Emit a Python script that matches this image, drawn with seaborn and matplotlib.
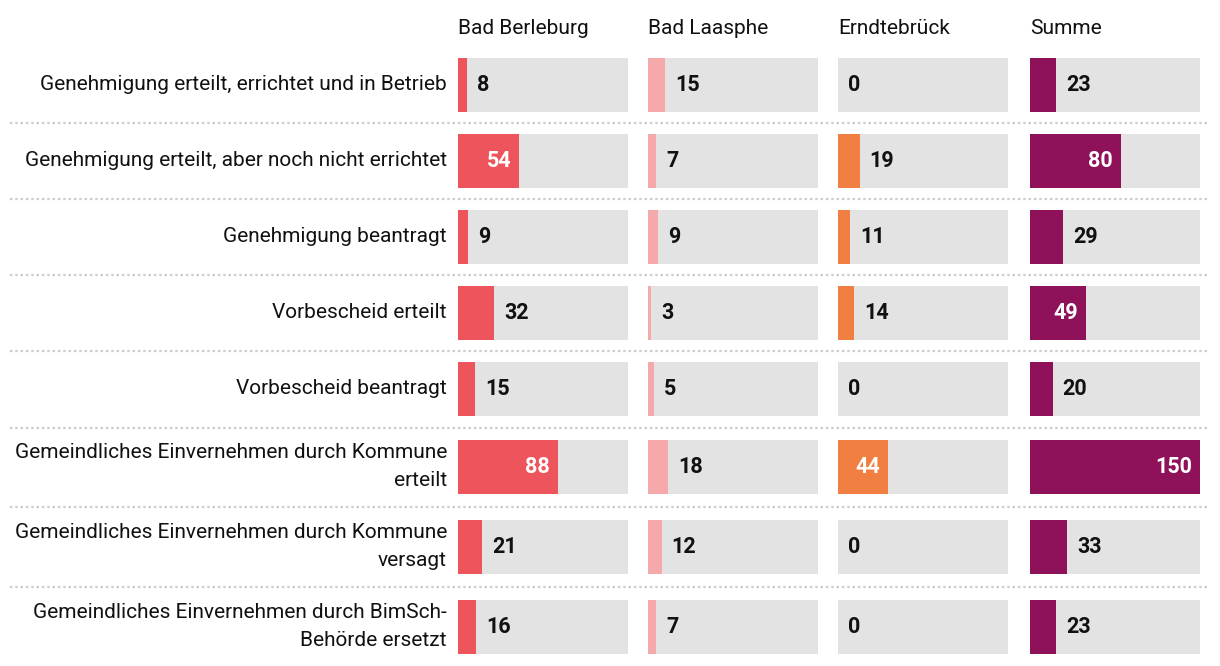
import numpy as np
import pandas as pd
import seaborn as sns
import matplotlib.pyplot as plt

labels = [
    "Genehmigung erteilt, errichtet und in Betrieb",
    "Genehmigung erteilt, aber noch nicht errichtet",
    "Genehmigung beantragt",
    "Vorbescheid erteilt",
    "Vorbescheid beantragt",
    "Gemeindliches Einvernehmen durch Kommune\nerteilt",
    "Gemeindliches Einvernehmen durch Kommune\nversagt",
    "Gemeindliches Einvernehmen durch BimSch-\nBehörde ersetzt",
]
columns = ["Bad Berleburg", "Bad Laasphe", "Erndtebrück", "Summe"]
berleburg = [8, 54, 9, 32, 15, 88, 21, 16]
laasphe = [15, 7, 9, 3, 5, 18, 12, 7]
erndtebrueck = [0, 19, 11, 14, 0, 44, 0, 0]
summe = [23, 80, 29, 49, 20, 150, 33, 23]
max_value = 150

colors = ["#ee545b", "#f5a9ab", "#f17f42", "#8e1159"]
gray = "#e3e3e3"

sns.set_theme(style="white")
plt.rcParams["font.family"] = ["Roboto", "DejaVu Sans"]

W, H = 1220, 666
fig = plt.figure(figsize=(W / 100, H / 100), dpi=100)

# row centres in pixel units, taller rows for two-line labels
lines = [l.count("\n") + 1 for l in labels]
pos = [85]
for i in range(1, len(labels)):
    pos.append(pos[-1] + 76 + 2 * (lines[i - 1] - 1) + 2 * (lines[i] - 1))

# background axes for labels, headers, separators
bg = fig.add_axes([0, 0, 1, 1])
bg.set_xlim(0, W)
bg.set_ylim(H, 0)
bg.axis("off")
for a, b in zip(pos[:-1], pos[1:]):
    bg.hlines((a + b) / 2, 10, 1210, color="#c8c8c8", lw=1.6, ls=(0, (1, 1.4)))
for p, lab in zip(pos, labels):
    bg.text(447, p, lab, ha="right", va="center", fontsize=15,
            color="#111111", linespacing=1.6)

col_left = [458, 648, 838, 1030]
col_w = 170
data = [berleburg, laasphe, erndtebrueck, summe]
px = max_value / col_w

for name, vals, color, left in zip(columns, data, colors, col_left):
    bg.text(left, 28, name, ha="left", va="center", fontsize=15, color="#111111")
    df = pd.DataFrame({"pos": pos, "value": vals, "full": [max_value] * len(vals)})
    ax = fig.add_axes([left / W, 0, col_w / W, 1])
    sns.barplot(data=df, x="full", y="pos", orient="y", native_scale=True,
                color=gray, saturation=1, errorbar=None, width=54 / 76,
                linewidth=0, ax=ax)
    sns.barplot(data=df, x="value", y="pos", orient="y", native_scale=True,
                color=color, saturation=1, errorbar=None, width=54 / 76,
                linewidth=0, ax=ax)
    for p, v in zip(pos, vals):
        if v >= 40:
            ax.text(v - 8 * px, p, str(v), ha="right", va="center",
                    fontsize=15.5, fontweight="bold", color="white")
        else:
            ax.text(v + 10 * px, p, str(v), ha="left", va="center",
                    fontsize=15.5, fontweight="bold", color="#111111")
    ax.set_xlim(0, max_value)
    ax.set_ylim(H, 0)
    ax.axis("off")

fig.savefig("out.png", dpi=100)
